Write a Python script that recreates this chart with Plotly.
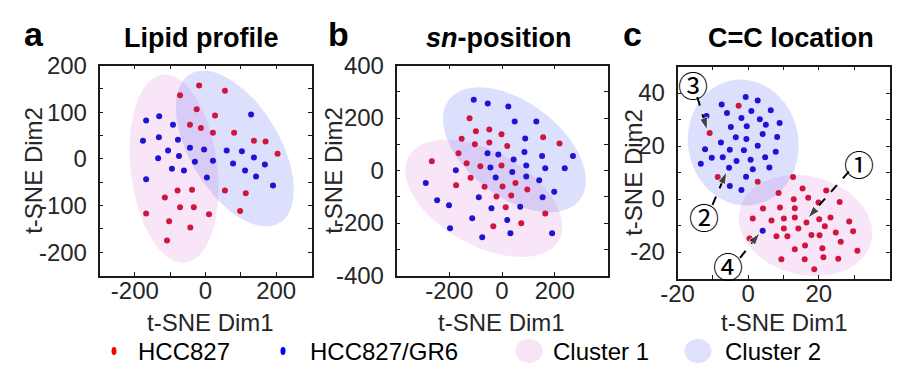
import numpy as np
import plotly.graph_objects as go

W, H = 898, 380

# ---------------- data ----------------
# Panel a : Lipid profile
a_red_x = [-18, 55, -72, -25, 27, -44, -13, 21, 81, 137, 170, 204, 55, 114, -79, -38, -115, -72, -33, -168, 10, 98, -103, -43, -109]
a_red_y = [157, 146, 136, 106, 93, 73, 66, 56, 56, 39, 37, 11, -68, -74, -68, -66, -83, -104, -104, -117, -119, -112, -134, -147, -175]
a_blue_x = [-168, -131, -92, -177, -132, -78, -106, -75, -44, -4, -134, -95, -61, -30, 21, 4, 60, 103, 129, 137, 78, 112, 143, 168, 191, -168]
a_blue_y = [82, 91, 73, 39, 46, 41, 18, 6, 24, 20, 1, -21, -25, -6, -4, -40, 18, 16, 95, 3, -10, -25, -38, -12, -57, -44]

# Panel b : sn-position
b_red_x = [-123, -99, -48, -2, -153, -103, -48, 20, 156, 218, -165, -266, -134, -82, -2, -119, -174, -66, 2, 51, 96, -21, 35, 14, 164, 73, -33]
b_red_y = [199, 150, 156, 138, 121, 100, 107, 93, 127, 103, 66, 35, 28, 16, 19, -28, -56, -62, -61, -48, -72, -99, -95, -140, -164, -201, -212]
b_blue_x = [-107, -54, 24, 48, 130, 88, -55, -14, 85, 152, 269, 44, 92, 164, 238, -175, -44, 39, 92, -24, 141, -289, 198, 154, -88, -246, -201, -40, 69, -113, 20, -197, -75, 32, 190]
b_blue_y = [270, 255, 244, 187, 187, 122, 66, 61, 70, 55, 55, 42, 19, 9, 9, 1, 11, -6, -23, -27, -37, -48, -81, -102, -102, -113, -132, -144, -138, -182, -189, -220, -254, -239, -239]

# Panel c : C=C location
c_red_x = [-2.7, -10.9, -8.6, 2.7, 12.7, 15.4, 22.1, 8.6, 12.9, 17.0, 19.9, 25.9, 4.2, 9.0, 13.2, 1.3, 6.6, 10.1, 13.2, 20.1, 23.3, 28.6, 16.5, 10.1, 14.2, 21.7, 24.8, 29.7, 0.4, 8.0, 11.1, 17.9, 20.2, 26.2, 13.2, 16.1, 21.0, 9.4, 16.0, 21.3, 25.5, 30.9, 18.7]
c_red_y = [35.2, 24.9, 8.3, 6.5, 8.3, 4.0, 3.2, 2.3, -0.1, 0.5, -1.3, -1.1, -3.6, -3.2, -3.5, -7.4, -8.1, -7.4, -7.0, -7.6, -7.0, -8.5, -8.9, -11.1, -11.1, -10.3, -12.6, -12.2, -14.9, -14.1, -14.1, -13.6, -13.7, -16.1, -19.0, -17.5, -18.6, -22.7, -22.7, -22.0, -22.5, -19.5, -26.5]
c_blue_x = [-0.7, 2.7, -7.5, -6.0, 0.9, 6.4, -1.9, 3.3, -11.8, -4.9, -0.4, 5.0, 8.9, 4.1, 8.2, -7.7, -3.5, -0.5, 2.7, -12.2, -5.2, -1.2, 7.8, -10.3, -7.2, -3.3, 0.7, 4.8, -13.4, -5.4, 1.3, 6.0, -0.6, -5.2, -1.9, 4.1]
c_blue_y = [38.5, 37.2, 35.7, 32.5, 33.2, 33.5, 30.6, 30.1, 31.3, 27.2, 27.5, 28.0, 28.7, 24.5, 23.4, 21.3, 23.3, 22.6, 20.1, 18.8, 18.6, 18.4, 17.8, 15.6, 15.8, 14.3, 14.8, 15.8, 13.3, 11.8, 11.2, 11.9, 8.4, 4.9, 3.4, -12.0]

# cluster ellipses: centre x, centre y, half-width x, half-height y, correlation
a_cluster1 = (-89, -21, 126, 202, -0.2)
a_cluster2 = (83, 22, 167, 167, -0.53)
b_cluster1 = (-69, -106, 298, 224, -0.48)
b_cluster2 = (47, 79, 271, 238, -0.49)
c_cluster1 = (16.2, -10.0, 18.9, 19.1, -0.15)
c_cluster2 = (-1.4, 21.3, 15.7, 23.8, -0.05)

# panel c call-outs: label, label position, arrow start, arrow tip
c_callouts = [
    ("①", (31.3, 13.4), (28.5, 10.3), (16.9, -7.2)),
    ("②", (-12.5, -6.6), (-10.1, -2.2), (-6.1, 10.3)),
    ("③", (-15.7, 43.5), (-14.4, 38.5), (-11.6, 26.0)),
    ("④", (-5.6, -25.0), (-2.3, -22.2), (3.3, -12.8)),
]

titles = ["Lipid profile", "<i>sn</i>-position", "C=C location"]
letters = ["a", "b", "c"]
legend_labels = ["HCC827", "HCC827/GR6", "Cluster 1", "Cluster 2"]

RED = "#d0163e"
BLUE = "#2014d4"
PINK_FILL = "rgba(230,160,225,0.28)"
BLUE_FILL = "rgba(120,130,245,0.25)"
AXC = "#262626"
FONT = "Liberation Sans, Arial, sans-serif"

# ---------------- layout geometry (pixels) ----------------
boxes = [(99.5, 311.5, 65.5, 275.5), (396.5, 607.5, 65.5, 275.5), (677.5, 889.5, 66.5, 278.5)]


def px(x):
    return x / W


def py(y):
    return 1 - y / H


def ellipse_xy(e, n=240):
    cx, cy, sx, sy, rho = e
    t = np.linspace(0, 2 * np.pi, n)
    x = cx + sx * np.cos(t)
    y = cy + sy * (rho * np.cos(t) + np.sqrt(1 - rho ** 2) * np.sin(t))
    return x, y


fig = go.Figure()

panels = [
    (a_cluster1, a_cluster2, a_red_x, a_red_y, a_blue_x, a_blue_y),
    (b_cluster1, b_cluster2, b_red_x, b_red_y, b_blue_x, b_blue_y),
    (c_cluster1, c_cluster2, c_red_x, c_red_y, c_blue_x, c_blue_y),
]

for i, (e1, e2, rx, ry, bx, by) in enumerate(panels):
    xa = "x" if i == 0 else f"x{i+1}"
    ya = "y" if i == 0 else f"y{i+1}"
    for e, fc in ((e1, PINK_FILL), (e2, BLUE_FILL)):
        ex, ey = ellipse_xy(e)
        fig.add_trace(go.Scatter(x=ex, y=ey, mode="lines", fill="toself",
                                 fillcolor=fc, line=dict(width=0, color=fc),
                                 hoverinfo="skip", showlegend=False,
                                 xaxis=xa, yaxis=ya))
    fig.add_trace(go.Scatter(x=rx, y=ry, mode="markers",
                             marker=dict(size=6, color=RED),
                             showlegend=False, xaxis=xa, yaxis=ya))
    fig.add_trace(go.Scatter(x=bx, y=by, mode="markers",
                             marker=dict(size=6, color=BLUE),
                             showlegend=False, xaxis=xa, yaxis=ya))

# call-out arrows in panel c
annotations = []
for lab, lpos, a0, a1 in c_callouts:
    fig.add_trace(go.Scatter(x=[a0[0], a1[0]], y=[a0[1], a1[1]],
                             mode="lines+markers",
                             line=dict(color="black", width=2, dash="dash"),
                             marker=dict(size=[0, 13], symbol="arrow",
                                         angleref="previous", color="black"),
                             showlegend=False, hoverinfo="skip",
                             xaxis="x3", yaxis="y3"))
    annotations.append(dict(text=lab, x=lpos[0], y=lpos[1], xref="x3", yref="y3",
                            showarrow=False, xanchor="center", yanchor="middle",
                            font=dict(size=30, color="black",
                                      family="Noto Sans CJK SC, DejaVu Sans")))

axis_common = dict(showline=True, mirror="allticks", linecolor="#1a1a1a", linewidth=1.5,
                   ticks="inside", ticklen=4, tickcolor="#1a1a1a", tickwidth=1,
                   showgrid=False, zeroline=False, automargin=False,
                   tickfont=dict(size=24, color=AXC, family=FONT))

xspecs = [
    dict(range=[-300, 300], tickvals=[-300, -200, -100, 0, 100, 200, 300],
         ticktext=["", "-200", "", "0", "", "200", ""]),
    dict(range=[-400, 400], tickvals=[-200, 0, 200],
         ticktext=["-200", "0", "200"]),
    dict(range=[-20.001, 40], tickvals=[-20, -10, 0, 10, 20, 30, 40],
         ticktext=["-20", "", "0", "", "20", "", ""]),
]
yspecs = [
    dict(range=[-250, 200], tickvals=list(range(-250, 201, 50)),
         ticktext=["" if v % 100 else str(v) for v in range(-250, 201, 50)]),
    dict(range=[-400, 400], tickvals=list(range(-400, 401, 100)),
         ticktext=["" if v % 200 else str(v) for v in range(-400, 401, 100)]),
    dict(range=[-30, 50.001], tickvals=list(range(-30, 51, 10)),
         ticktext=["" if v % 20 else str(v) for v in range(-30, 51, 10)]),
]

layout_axes = {}
for i, (l, r, t, b) in enumerate(boxes):
    xk = "xaxis" if i == 0 else f"xaxis{i+1}"
    yk = "yaxis" if i == 0 else f"yaxis{i+1}"
    an = "x" if i == 0 else f"x{i+1}"
    yn = "y" if i == 0 else f"y{i+1}"
    layout_axes[xk] = dict(axis_common, domain=[px(l), px(r)], anchor=yn,
                           tickmode="array", ticklabelstandoff=-7, **xspecs[i])
    layout_axes[yk] = dict(axis_common, domain=[py(b), py(t)], anchor=an,
                           tickmode="array", ticklabelstandoff=6, **yspecs[i])

# titles, panel letters, axis titles
for i, (l, r, t, b) in enumerate(boxes):
    annotations.append(dict(text=f"<b>{titles[i]}</b>", x=px([201.7, 499, 790.5][i]),
                            y=py(38), xref="paper", yref="paper",
                            showarrow=False, xanchor="center", yanchor="middle",
                            font=dict(size=27, color="black", family=FONT)))
    annotations.append(dict(text=f"<b>{letters[i]}</b>", x=px([33.5, 338, 632.5][i]),
                            y=py(34), xref="paper", yref="paper",
                            showarrow=False, xanchor="center", yanchor="middle",
                            font=dict(size=34, color="black", family=FONT)))
    annotations.append(dict(text="t-SNE Dim1", x=px([210, 502, 784.5][i]),
                            y=py(322), xref="paper", yref="paper",
                            showarrow=False, xanchor="center", yanchor="middle",
                            font=dict(size=24, color=AXC, family=FONT)))
    annotations.append(dict(text="t-SNE Dim2", x=px([33.3, 333.3, 633.3][i]),
                            y=py((t + b) / 2), xref="paper", yref="paper",
                            textangle=-90, showarrow=False,
                            xanchor="center", yanchor="middle",
                            font=dict(size=24, color=AXC, family=FONT)))

# legend (drawn manually)
shapes = []
LEG_Y = 351
shapes.append(dict(type="circle", xref="paper", yref="paper",
                   x0=px(111.5), x1=px(116.5), y0=py(355), y1=py(347),
                   fillcolor="#ff0000", line=dict(width=0)))
shapes.append(dict(type="circle", xref="paper", yref="paper",
                   x0=px(280.5), x1=px(285.5), y0=py(355), y1=py(347),
                   fillcolor="#0000ff", line=dict(width=0)))
shapes.append(dict(type="circle", xref="paper", yref="paper",
                   x0=px(515.5), x1=px(542.5), y0=py(363), y1=py(339),
                   fillcolor="#f8e4f5", line=dict(width=0)))
shapes.append(dict(type="circle", xref="paper", yref="paper",
                   x0=px(684.5), x1=px(711.5), y0=py(363), y1=py(339),
                   fillcolor="#dfe0fc", line=dict(width=0)))
for lab, lx in zip(legend_labels, [135.6, 307.6, 551, 723]):
    annotations.append(dict(text=lab, x=px(lx), y=py(LEG_Y), xref="paper", yref="paper",
                            showarrow=False, xanchor="left", yanchor="middle",
                            font=dict(size=24, color="black", family=FONT)))

fig.update_layout(width=W, height=H, margin=dict(l=0, r=0, t=0, b=0, autoexpand=False),
                  paper_bgcolor="white", plot_bgcolor="white",
                  showlegend=False, annotations=annotations, shapes=shapes,
                  font=dict(family=FONT), **layout_axes)

fig.write_html("out.html", config={"displayModeBar": False},
               post_script="document.body.style.margin='0';document.body.style.overflow='hidden';")
